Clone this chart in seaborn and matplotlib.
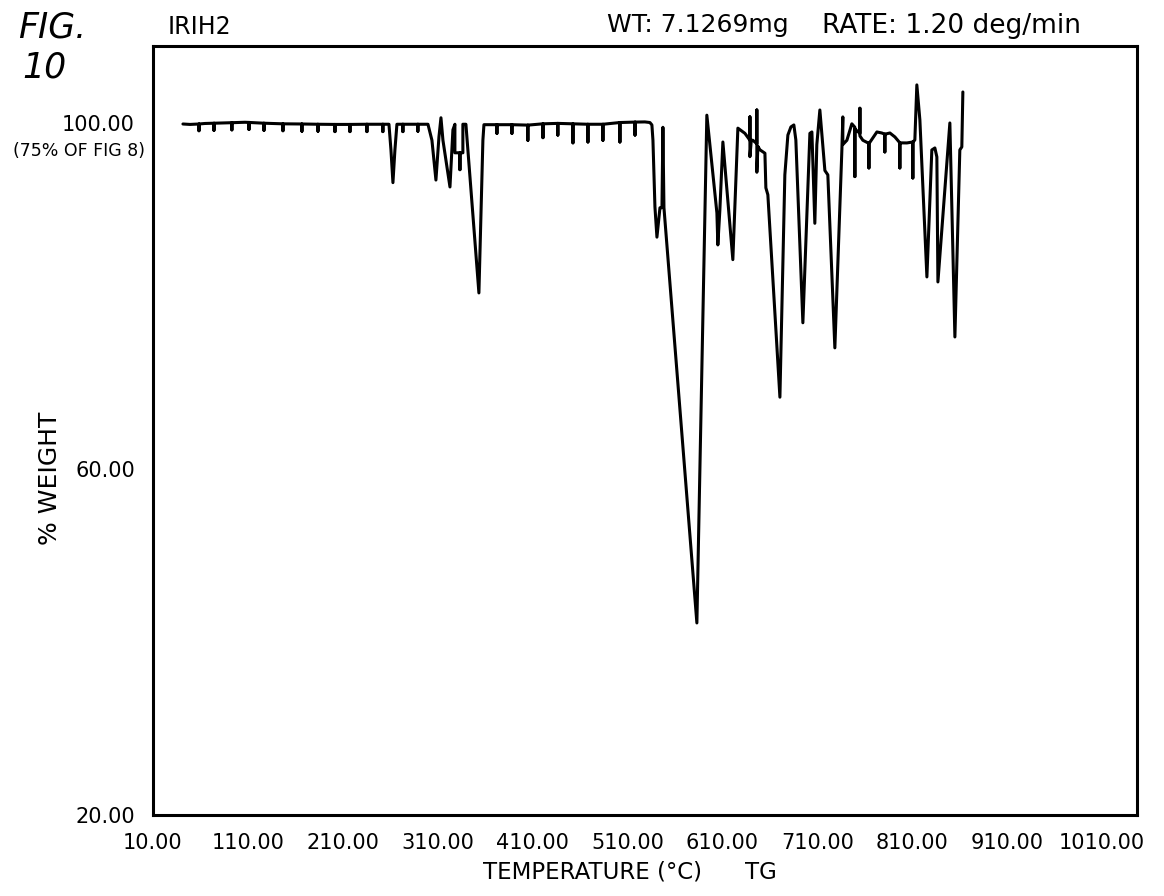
import pandas as pd
import matplotlib
matplotlib.use("Agg")
import matplotlib.pyplot as plt
import seaborn as sns

# TG trace (temperature in deg C, % weight)
temperature = [
    41.6, 49.0, 58.5, 58.5, 58.5, 64.8, 74.3, 74.3, 74.3, 85.9, 93.2, 93.2, 93.2,
    106.9, 111.2, 111.2, 111.2, 122.7, 127.0, 127.0, 127.0, 143.8, 147.0, 147.0, 147.0,
    164.9, 167.0, 167.0, 167.0, 183.9, 183.9, 183.9, 201.8, 201.8, 201.8,
    217.6, 217.6, 217.6, 235.5, 235.5, 235.5, 249.2, 252.3, 252.3, 252.3, 258.7,
    260.8, 262.9, 265.0, 267.1, 273.4, 273.4, 273.4, 289.2, 289.2, 289.2, 299.8,
    304.0, 308.2, 311.4, 313.5, 315.6, 323.0, 326.1, 328.2, 328.2, 333.5, 333.5,
    333.5, 336.6, 336.6, 339.8, 353.5, 357.7, 358.8, 365.1,
    372.5, 372.5, 372.5, 388.3, 388.3, 388.3, 405.1, 405.1, 405.1, 421.0, 421.0, 421.0,
    436.7, 436.7, 436.7, 452.6, 452.6, 452.6, 468.4, 468.4, 468.4, 484.2, 484.2, 484.2,
    502.1, 502.1, 502.1, 518.0, 518.0, 518.0, 528.4, 533.7,
    535.8, 536.9, 537.9, 539.0, 541.1, 544.3, 546.4, 547.4, 548.5, 583.2, 593.7,
    604.3, 605.3, 607.4, 610.6, 621.1, 626.4, 633.8,
    639.1, 639.1, 639.1, 640.5, 642.2, 646.4, 646.4, 646.4, 647.5, 649.6, 654.9,
    655.9, 658.0, 670.7, 675.9, 679.1, 682.3, 685.4, 687.5, 694.9, 702.3, 704.4,
    707.5, 709.6, 712.8, 718.1, 721.2, 728.6, 736.0, 737.0, 737.0, 741.3, 746.5,
    749.7, 749.7, 749.7, 755.0, 755.0, 755.0, 758.1, 763.4, 764.5, 764.5, 764.5,
    772.9, 778.1, 781.3, 781.3, 781.3, 786.6, 791.9, 797.1, 797.1, 797.1, 804.5,
    810.8, 810.8, 810.8, 812.9, 815.0, 818.2, 825.6, 830.8, 834.0, 836.1, 837.2,
    849.8, 855.1, 860.3, 862.4, 863.5,
]
weight = [
    99.88, 99.83, 99.88, 99.10, 99.88, 99.94, 99.97, 99.15, 99.97, 100.0, 100.03, 99.20, 100.03,
    100.08, 100.06, 99.25, 100.06, 100.0, 99.97, 99.15, 99.97, 99.92, 99.90, 99.10, 99.90,
    99.88, 99.88, 99.05, 99.88, 99.85, 99.05, 99.85, 99.83, 99.00, 99.83,
    99.83, 99.00, 99.83, 99.85, 99.00, 99.85, 99.85, 99.85, 99.00, 99.85, 99.85,
    96.90, 93.10, 96.90, 99.85, 99.85, 99.00, 99.85, 99.85, 99.05, 99.85, 99.85,
    98.00, 93.40, 98.40, 100.60, 98.00, 92.60, 99.20, 99.85, 96.55, 96.55, 94.60,
    96.55, 96.55, 99.85, 99.85, 80.35, 98.00, 99.80, 99.80,
    99.80, 98.80, 99.80, 99.80, 98.80, 99.80, 99.75, 98.00, 99.75, 99.90, 98.30, 99.90,
    99.95, 98.60, 99.95, 99.90, 97.70, 99.90, 99.85, 97.80, 99.85, 99.85, 98.00, 99.85,
    100.05, 97.80, 100.05, 100.10, 98.60, 100.10, 100.12, 100.05,
    99.77, 98.00, 94.20, 90.30, 86.80, 90.20, 90.20, 99.50, 90.20, 42.20, 100.90,
    89.60, 85.90, 89.90, 97.80, 84.20, 99.40, 98.80,
    98.00, 100.70, 96.10, 98.00, 98.00, 97.60, 101.50, 94.30, 97.30, 96.90, 96.50,
    92.50, 91.70, 68.30, 94.00, 98.60, 99.54, 99.77, 98.03, 76.90, 98.80, 98.96,
    88.40, 97.50, 101.50, 94.50, 94.00, 74.00, 96.90, 100.70, 97.50, 98.00, 99.90,
    99.50, 93.80, 99.30, 98.80, 101.70, 98.50, 98.00, 97.70, 97.60, 94.80, 97.60,
    98.96, 98.84, 98.70, 96.65, 98.70, 98.84, 98.38, 97.70, 94.80, 97.70, 97.69,
    97.80, 93.64, 97.80, 98.03, 104.40, 100.35, 82.20, 96.88, 97.11, 96.07, 81.62,
    100.0, 75.26, 96.88, 97.23, 103.58,
]

x_ticks = [10, 110, 210, 310, 410, 510, 610, 710, 810, 910, 1010]
x_tick_labels = ['10.00', '110.00', '210.00', '310.00', '410.00', '510.00',
                 '610.00', '710.00', '810.00', '910.00', '1010.00']
y_ticks = [20, 40, 60, 80, 100]
y_tick_labels = ['20.00', '', '60.00', '', '100.00']

df = pd.DataFrame({'Temperature': temperature, 'Weight': weight})

sns.set_style('white')
plt.rcParams['font.family'] = ['DejaVu Sans']
plt.rcParams['text.color'] = 'black'

fig = plt.figure(figsize=(11.64, 8.96), dpi=100)
ax = fig.add_axes([0.1314, 0.0904, 0.8454, 0.8583])

sns.lineplot(x='Temperature', y='Weight', data=df, sort=False, estimator=None,
             color='black', linewidth=2.2, ax=ax)

ax.set_xlim(10, 1047)
ax.set_ylim(20, 108.9)
ax.set_xticks(x_ticks)
ax.set_xticklabels(x_tick_labels)
ax.set_yticks(y_ticks)
ax.set_yticklabels(y_tick_labels)
ax.set_xlabel('')
ax.set_ylabel('')
ax.tick_params(direction='out', length=9, width=1.6, colors='black',
               labelcolor='black', labelsize=15, pad=4)
for side in ax.spines.values():
    side.set_color('black')
    side.set_linewidth(2.2)

# Header and axis texts
fig.text(18 / 1164, 1 - 10 / 896, 'FIG.', fontsize=25, style='italic', va='top')
fig.text(22 / 1164, 1 - 50 / 896, '10', fontsize=25, style='italic', va='top')
fig.text(168 / 1164, 1 - 15 / 896, 'IRIH2', fontsize=17, va='top')
fig.text(607 / 1164, 1 - 13 / 896, 'WT: 7.1269mg', fontsize=18, va='top')
fig.text(822 / 1164, 1 - 13 / 896, 'RATE: 1.20 deg/min', fontsize=19, va='top')
fig.text(145 / 1164, 1 - 142 / 896, '(75% OF FIG 8)', fontsize=12.5, ha='right', va='top')
fig.text(50 / 1164, 1 - 478 / 896, '% WEIGHT', fontsize=18, rotation=90,
         ha='center', va='center')
fig.text(483 / 1164, 1 - 872 / 896, 'TEMPERATURE (°C)', fontsize=16.5, va='center')
fig.text(745 / 1164, 1 - 872 / 896, 'TG', fontsize=16.5, va='center')

plt.savefig('out.png', dpi=100)
